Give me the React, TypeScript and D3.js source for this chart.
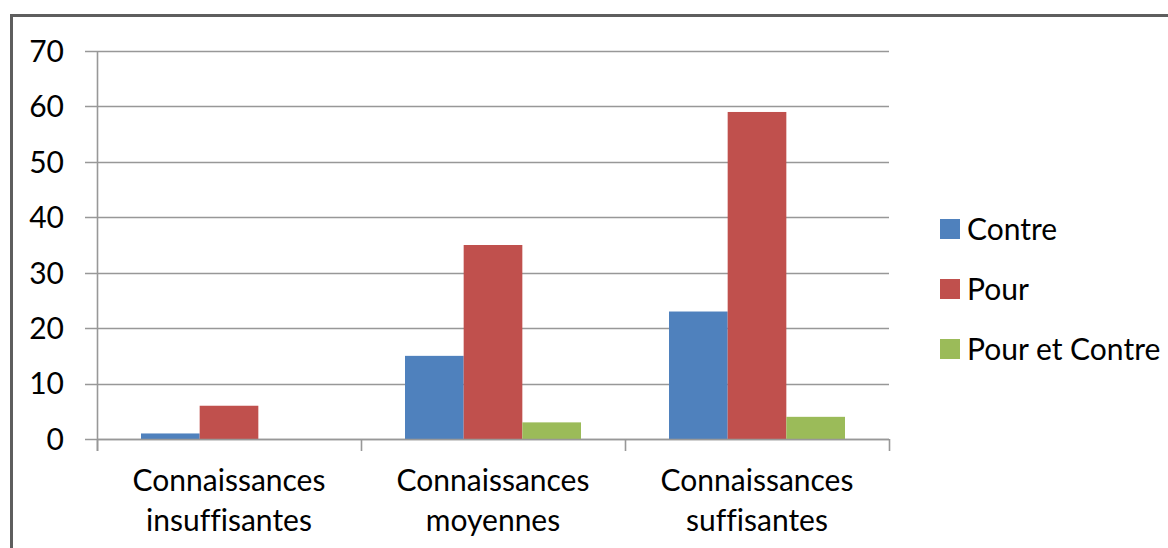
import React from "react";
import * as d3 from "d3";

const categories = [
  ["Connaissances", "insuffisantes"],
  ["Connaissances", "moyennes"],
  ["Connaissances", "suffisantes"],
];
const seriesNames = ["Contre", "Pour", "Pour et Contre"];
const contreValues = [1, 15, 23];
const pourValues = [6, 35, 59];
const pourEtContreValues = [0, 3, 4];
const seriesColors = ["#4F81BD", "#C0504D", "#9BBB59"];
const yTicks = [0, 10, 20, 30, 40, 50, 60, 70];

const W = 1168;
const H = 548;
const FONT = "Lato, 'Open Sans', sans-serif";
const FS = 30;

export default function App() {
  const plot = { left: 97, right: 889, top: 51, bottom: 439 };
  const catKeys = categories.map((_, i) => String(i));
  const x = d3.scaleBand<string>().domain(catKeys).range([plot.left, plot.right]).padding(0);
  const inner = d3
    .scaleBand<string>()
    .domain(seriesNames)
    .range([0, x.bandwidth()])
    .paddingInner(0)
    .paddingOuter(0.75);
  const y = d3.scaleLinear().domain([0, 70]).range([plot.bottom, plot.top]);
  const series = [contreValues, pourValues, pourEtContreValues];
  const gridColor = "#989898";

  return (
    <svg
      width={W}
      height={H}
      style={{ position: "absolute", left: 0, top: 0, background: "#fff", fontVariantLigatures: "none" }}
      fontFamily={FONT}
    >
      {/* chart frame */}
      <path d={`M11.5,${H + 5} V15.5 H${W + 5}`} fill="none" stroke="#5e5e5e" strokeWidth={3} />

      {/* gridlines and y ticks */}
      {yTicks.map((t) => (
        <g key={t}>
          <line x1={85} x2={plot.right} y1={Math.round(y(t)) + 0.5} y2={Math.round(y(t)) + 0.5} stroke={gridColor} strokeWidth={1.6} />
          <text x={64} y={y(t)} dy="0.36em" textAnchor="end" fontSize={FS} fill="#000">
            {t}
          </text>
        </g>
      ))}

      {/* y axis */}
      <line x1={plot.left + 0.5} x2={plot.left + 0.5} y1={plot.top} y2={plot.bottom + 12} stroke={gridColor} strokeWidth={1.6} />

      {/* bars */}
      {series.map((vals, si) =>
        vals.map((v, ci) => {
          const bx = (x(String(ci)) as number) + (inner(seriesNames[si]) as number);
          return (
            <rect
              key={`${si}-${ci}`}
              x={bx}
              y={y(v)}
              width={inner.bandwidth()}
              height={plot.bottom - y(v)}
              fill={seriesColors[si]}
            />
          );
        })
      )}

      {/* x axis */}
      <line x1={plot.left} x2={plot.right} y1={plot.bottom + 0.5} y2={plot.bottom + 0.5} stroke={gridColor} strokeWidth={1.6} />
      {[...catKeys.map((k) => x(k) as number), plot.right].map((px, i) => (
        <line key={i} x1={px + 0.5} x2={px + 0.5} y1={plot.bottom} y2={plot.bottom + 12} stroke={gridColor} strokeWidth={1.6} />
      ))}
      {categories.map((lines, ci) => {
        const cx = (x(String(ci)) as number) + x.bandwidth() / 2;
        return (
          <text key={ci} x={cx} textAnchor="middle" fontSize={FS} fill="#000">
            <tspan x={cx} y={491}>{lines[0]}</tspan>
            <tspan x={cx} y={531}>{lines[1]}</tspan>
          </text>
        );
      })}

      {/* legend */}
      {seriesNames.map((name, i) => (
        <g key={name} transform={`translate(940, ${219 + i * 60})`}>
          <rect width={20} height={20} fill={seriesColors[i]} />
          <text x={27} y={10} dy="0.36em" fontSize={FS} fill="#000">
            {name}
          </text>
        </g>
      ))}
    </svg>
  );
}
